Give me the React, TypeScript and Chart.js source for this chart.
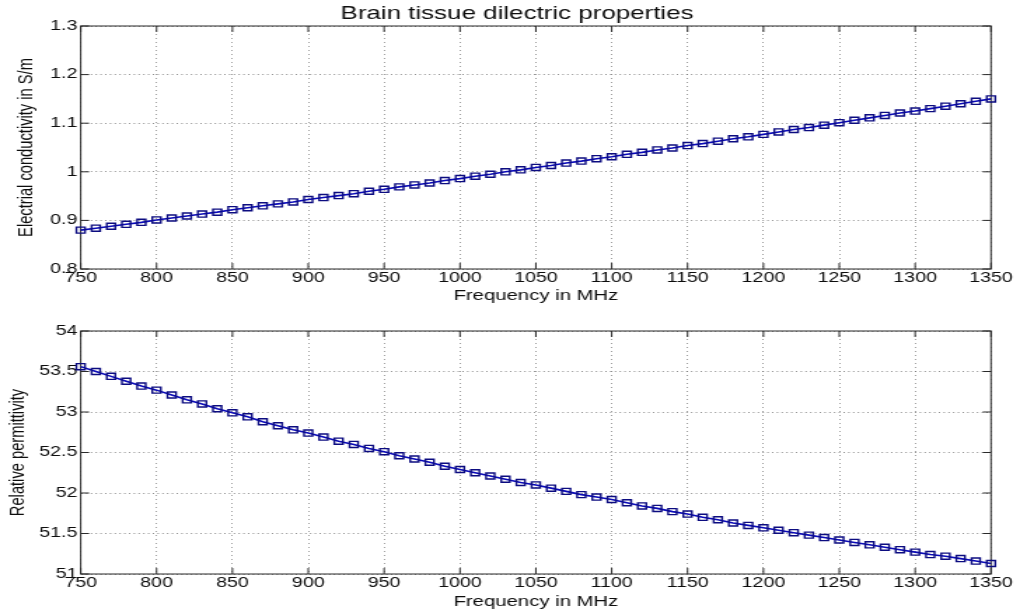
import React, { useEffect, useRef } from "react";
import { Chart, registerables } from "chart.js";

Chart.register(...registerables);

// ---------------- data ----------------
const frequencies = [
  750, 760, 770, 780, 790, 800, 810, 820, 830, 840,
  850, 860, 870, 880, 890, 900, 910, 920, 930, 940,
  950, 960, 970, 980, 990, 1000, 1010, 1020, 1030, 1040,
  1050, 1060, 1070, 1080, 1090, 1100, 1110, 1120, 1130, 1140,
  1150, 1160, 1170, 1180, 1190, 1200, 1210, 1220, 1230, 1240,
  1250, 1260, 1270, 1280, 1290, 1300, 1310, 1320, 1330, 1340,
  1350,
];

const conductivity = [
  0.880, 0.884, 0.888, 0.892, 0.896, 0.901, 0.905, 0.909, 0.913, 0.917,
  0.922, 0.926, 0.930, 0.934, 0.938, 0.943, 0.947, 0.951, 0.955, 0.960,
  0.964, 0.969, 0.973, 0.977, 0.982, 0.986, 0.991, 0.995, 1.000, 1.004,
  1.009, 1.013, 1.018, 1.022, 1.027, 1.031, 1.036, 1.040, 1.045, 1.049,
  1.054, 1.058, 1.063, 1.068, 1.072, 1.077, 1.082, 1.087, 1.091, 1.096,
  1.101, 1.106, 1.111, 1.116, 1.121, 1.125, 1.130, 1.135, 1.140, 1.145,
  1.150,
];

const permittivity = [
  53.56, 53.50, 53.44, 53.38, 53.32, 53.27, 53.21, 53.15, 53.10, 53.04,
  52.99, 52.94, 52.88, 52.83, 52.78, 52.74, 52.69, 52.64, 52.60, 52.55,
  52.51, 52.46, 52.42, 52.38, 52.33, 52.29, 52.25, 52.21, 52.17, 52.13,
  52.10, 52.06, 52.02, 51.98, 51.95, 51.92, 51.88, 51.84, 51.81, 51.77,
  51.74, 51.70, 51.67, 51.63, 51.60, 51.57, 51.54, 51.51, 51.48, 51.45,
  51.42, 51.39, 51.36, 51.33, 51.30, 51.27, 51.24, 51.22, 51.19, 51.16,
  51.13,
];

const xTicks = [750, 800, 850, 900, 950, 1000, 1050, 1100, 1150, 1200, 1250, 1300, 1350];
const conductivityTicks = [0.8, 0.9, 1, 1.1, 1.2, 1.3];
const permittivityTicks = [51, 51.5, 52, 52.5, 53, 53.5, 54];

const chartTitle = "Brain tissue dilectric properties";
const xLabel = "Frequency in MHz";
const conductivityLabel = "Electrial conductivity in S/m";
const permittivityLabel = "Relative permittivity";

// ---------------- styling ----------------
const INNER_W = 728; // internal bitmap width (stretched to 1020 css px, like the reference)
const INNER_H = 308;
const FONT = "'Liberation Sans', Arial, Helvetica, sans-serif";
const TEXT = "#0d0d0d";
const GRID = "rgba(90,90,90,0.75)";

const framePlugin = {
  id: "matlabFrame",
  beforeDatasetsDraw(chart: any) {
    const { ctx, chartArea: a, scales } = chart;
    const xs = scales.x;
    const ys = scales.y;
    ctx.save();
    ctx.strokeStyle = "#2a2a2a";
    ctx.lineWidth = 1;
    ctx.strokeRect(a.left, a.top, a.right - a.left, a.bottom - a.top);
    ctx.beginPath();
    xs.ticks.forEach((t: any) => {
      const px = xs.getPixelForValue(t.value);
      ctx.moveTo(px, a.bottom);
      ctx.lineTo(px, a.bottom - 6);
      ctx.moveTo(px, a.top);
      ctx.lineTo(px, a.top + 6);
    });
    ys.ticks.forEach((t: any) => {
      const py = ys.getPixelForValue(t.value);
      ctx.moveTo(a.left, py);
      ctx.lineTo(a.left + 6, py);
      ctx.moveTo(a.right, py);
      ctx.lineTo(a.right - 6, py);
    });
    ctx.stroke();
    ctx.restore();
  },
};

interface PanelOpts {
  values: number[];
  yTicks: number[];
  yLabel: string;
  showTitle: boolean;
  padLeft: number;
  padTop: number;
  yWidth: number;
  yTitlePad: number;
  xHeight: number;
  xTitlePad: number;
}

function makeConfig(o: PanelOpts): any {
  const yMin = o.yTicks[0];
  const yMax = o.yTicks[o.yTicks.length - 1];
  return {
    type: "line",
    data: {
      datasets: [
        {
          data: frequencies.map((f, i) => ({ x: f, y: o.values[i] })),
          borderColor: "#0a0ab8",
          borderWidth: 1.6,
          pointStyle: "rect",
          pointRadius: 4.3,
          pointBorderWidth: 1.4,
          pointBorderColor: "#0c0c80",
          pointBackgroundColor: "rgba(0,0,0,0)",
          tension: 0,
          clip: false,
        },
      ],
    },
    options: {
      responsive: false,
      animation: false,
      devicePixelRatio: 1,
      events: [],
      layout: { padding: { left: o.padLeft, top: o.padTop, right: 0, bottom: 0 } },
      plugins: {
        legend: { display: false },
        tooltip: { enabled: false },
        title: {
          display: o.showTitle,
          text: chartTitle,
          color: TEXT,
          font: { family: FONT, size: 18.5, weight: "normal" },
          padding: { top: 2.9, bottom: 0.9 },
        },
      },
      scales: {
        x: {
          type: "linear",
          position: "bottom",
          min: xTicks[0],
          max: xTicks[xTicks.length - 1],
          afterBuildTicks: (s: any) => {
            s.ticks = xTicks.map((v) => ({ value: v }));
          },
          afterFit: (s: any) => {
            s.height = o.xHeight;
          },
          grid: {
            color: GRID,
            lineWidth: 0.8,
            drawTicks: false,
          },
          border: { display: false, dash: [1, 3] },
          ticks: {
            color: TEXT,
            font: { family: FONT, size: 14 },
            padding: 1,
            maxRotation: 0,
            autoSkip: false,
            callback: (v: any) => String(v),
          },
          title: {
            display: true,
            text: xLabel,
            color: TEXT,
            font: { family: FONT, size: 14.5 },
            padding: { top: 0, bottom: o.xTitlePad },
          },
        },
        y: {
          type: "linear",
          position: "left",
          min: yMin,
          max: yMax,
          afterBuildTicks: (s: any) => {
            s.ticks = o.yTicks.map((v) => ({ value: v }));
          },
          afterFit: (s: any) => {
            s.width = o.yWidth;
          },
          grid: {
            color: GRID,
            lineWidth: 0.9,
            drawTicks: false,
          },
          border: { display: false, dash: [1, 2.4] },
          ticks: {
            color: TEXT,
            font: { family: FONT, size: 14 },
            padding: 2.4,
            autoSkip: false,
            callback: (v: any) => String(v),
          },
          title: {
            display: true,
            text: o.yLabel,
            color: TEXT,
            font: { family: FONT, size: 14.7 },
            padding: { top: o.yTitlePad, bottom: 0 },
          },
        },
        rightSpace: {
          type: "linear",
          position: "right",
          display: true,
          grid: { display: false, drawTicks: false },
          border: { display: false },
          ticks: { display: false },
          afterFit: (s: any) => {
            s.width = 20.7;
          },
        },
      },
    },
    plugins: [framePlugin],
  };
}

function Panel({ opts }: { opts: PanelOpts }) {
  const ref = useRef<HTMLCanvasElement | null>(null);
  useEffect(() => {
    if (!ref.current) return;
    const chart = new Chart(ref.current, makeConfig(opts));
    return () => chart.destroy();
  }, []);
  return (
    <canvas
      ref={ref}
      width={INNER_W}
      height={INNER_H}
      style={{ width: "1020px", height: `${INNER_H}px`, display: "block" }}
    />
  );
}

const topPanel: PanelOpts = {
  values: conductivity,
  yTicks: conductivityTicks,
  yLabel: conductivityLabel,
  showTitle: true,
  padLeft: 10,
  padTop: 0,
  yWidth: 47.6,
  yTitlePad: 0.5,
  xHeight: 39,
  xTitlePad: 3.3,
};

const bottomPanel: PanelOpts = {
  values: permittivity,
  yTicks: permittivityTicks,
  yLabel: permittivityLabel,
  showTitle: false,
  padLeft: 0,
  padTop: 23,
  yWidth: 57.6,
  yTitlePad: 4.3,
  xHeight: 42,
  xTitlePad: 5.3,
};

export default function App() {
  return (
    <div
      style={{
        position: "absolute",
        left: 0,
        top: 0,
        width: "1020px",
        height: "616px",
        background: "#ffffff",
      }}
    >
      <Panel opts={topPanel} />
      <Panel opts={bottomPanel} />
    </div>
  );
}
